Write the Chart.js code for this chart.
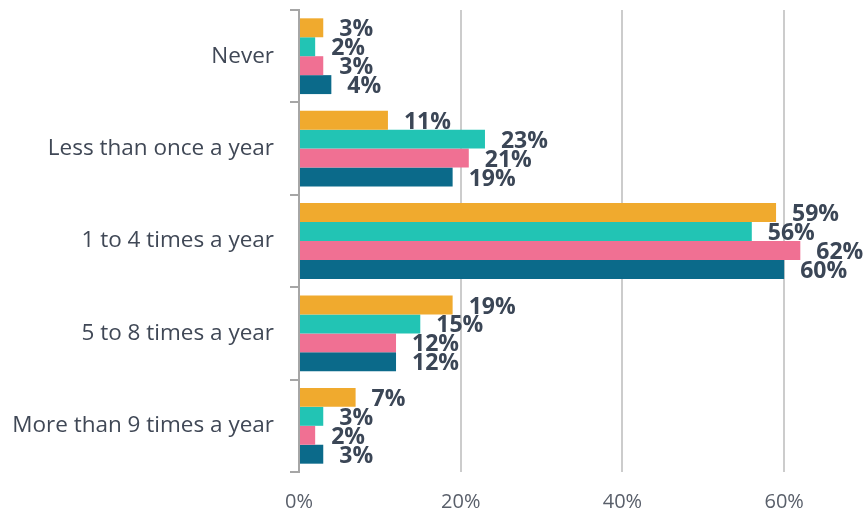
<!DOCTYPE html>
<html>
<head>
<meta charset="utf-8">
<script src="https://cdn.jsdelivr.net/npm/chart.js@4"></script>
<style>
  html, body { margin: 0; padding: 0; background: #fff; }
  #wrap { width: 865px; height: 522px; }
</style>
</head>
<body>
<div id="wrap"><canvas id="chart"></canvas></div>
<script>
const categories = ['Never', 'Less than once a year', '1 to 4 times a year', '5 to 8 times a year', 'More than 9 times a year'];
const seriesNames = ['Group 1', 'Group 2', 'Group 3', 'Group 4'];
const seriesA = [3, 11, 59, 19, 7];
const seriesB = [2, 23, 56, 15, 3];
const seriesC = [3, 21, 62, 12, 2];
const seriesD = [4, 19, 60, 12, 3];
const seriesColors = ['#F0AA2E', '#22C4B4', '#F07093', '#0B6A8A'];
const xTicks = [0, 20, 40, 60];

const allSeries = [seriesA, seriesB, seriesC, seriesD];

const labelPlugin = {
    id: 'barLabels',
    afterDatasetsDraw(chart) {
        const ctx = chart.ctx;
        ctx.save();
        ctx.font = 'bold 23px "Open Sans", sans-serif';
        ctx.fillStyle = '#3B4656';
        ctx.textAlign = 'left';
        ctx.textBaseline = 'middle';
        chart.data.datasets.forEach((ds, i) => {
            const meta = chart.getDatasetMeta(i);
            meta.data.forEach((bar, j) => {
                ctx.fillText(ds.data[j] + '%', bar.x + 16, bar.y + 2);
            });
        });
        ctx.restore();
    }
};

new Chart(document.getElementById('chart'), {
    type: 'bar',
    data: {
        labels: categories,
        datasets: allSeries.map((s, i) => ({
            label: seriesNames[i],
            data: s,
            backgroundColor: seriesColors[i],
            categoryPercentage: 0.82,
            barPercentage: 1
        }))
    },
    options: {
        indexAxis: 'y',
        responsive: true,
        maintainAspectRatio: false,
        animation: false,
        layout: { padding: { top: 10, right: 0, left: 0, bottom: -10 } },
        plugins: {
            legend: { display: false },
            tooltip: { enabled: false }
        },
        scales: {
            x: {
                min: 0,
                max: 70,
                afterBuildTicks: axis => {
                    axis.ticks = xTicks.map(v => ({ value: v }));
                },
                grid: { color: '#CCCCCC', lineWidth: 2, drawTicks: false },
                border: { display: false },
                ticks: {
                    padding: 18,
                    color: '#595F6A',
                    font: { family: '"Open Sans", sans-serif', size: 20 },
                    callback: v => v + '%'
                }
            },
            y: {
                afterFit: axis => {
                    axis.width = 299;
                    axis.paddingTop = 0;
                    axis.paddingBottom = 0;
                },
                grid: { offset: true, drawOnChartArea: false, color: '#A6A6A6', lineWidth: 2, tickLength: 9 },
                border: { color: '#A6A6A6', width: 2 },
                ticks: {
                    padding: 16,
                    color: '#404856',
                    font: { family: '"Open Sans", sans-serif', size: 22.5 }
                }
            }
        }
    },
    plugins: [labelPlugin]
});
</script>
</body>
</html>
